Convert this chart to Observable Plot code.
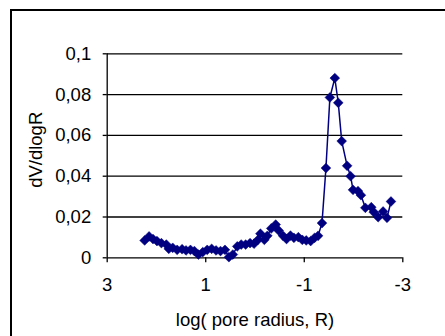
<!DOCTYPE html>
<html>
<head>
<meta charset="utf-8">
<script src="https://cdn.jsdelivr.net/npm/d3@7"></script>
<script src="https://cdn.jsdelivr.net/npm/@observablehq/plot@0.6"></script>
<style>
  html, body { margin: 0; padding: 0; background: #fff; }
  #wrap { position: relative; width: 445px; height: 336px; overflow: hidden; }
  #border { position: absolute; left: 10px; top: 9px; width: 450px; height: 350px; border: 2px solid #000; box-sizing: border-box; pointer-events: none; }
</style>
</head>
<body>
<div id="wrap"><div id="border"></div></div>
<script>
const logR = [2.24, 2.15, 2.07, 1.99, 1.90, 1.80, 1.75, 1.67, 1.58, 1.48, 1.40, 1.31, 1.23, 1.15, 1.06, 0.97, 0.88, 0.79, 0.70, 0.61, 0.53, 0.45, 0.36, 0.28, 0.19, 0.10, 0.02, -0.06, -0.11, -0.19, -0.25, -0.33, -0.42, -0.48, -0.57, -0.64, -0.72, -0.79, -0.88, -0.96, -1.04, -1.13, -1.21, -1.28, -1.36, -1.44, -1.52, -1.62, -1.69, -1.76, -1.87, -1.94, -1.99, -2.09, -2.15, -2.24, -2.36, -2.41, -2.50, -2.60, -2.68, -2.76];
const dVdlogR = [0.0085, 0.0105, 0.0092, 0.0082, 0.0072, 0.0065, 0.0044, 0.0049, 0.0039, 0.0042, 0.0036, 0.0039, 0.0033, 0.0016, 0.0028, 0.0039, 0.0044, 0.0036, 0.0033, 0.0039, 0.0003, 0.0016, 0.0056, 0.0065, 0.0065, 0.0072, 0.0069, 0.0088, 0.0118, 0.0088, 0.0108, 0.0144, 0.0163, 0.0134, 0.0108, 0.0092, 0.0109, 0.0098, 0.0101, 0.0088, 0.0085, 0.0082, 0.0098, 0.0108, 0.0170, 0.0440, 0.0786, 0.0881, 0.0760, 0.0572, 0.0451, 0.0400, 0.0333, 0.0327, 0.0307, 0.0245, 0.0248, 0.0224, 0.0199, 0.0227, 0.0196, 0.0276];

const xTicks = [3, 1, -1, -3];
const xTickLabels = ["3", "1", "-1", "-3"];
const yTicks = [0, 0.02, 0.04, 0.06, 0.08, 0.1];
const yTickLabels = ["0", "0,02", "0,04", "0,06", "0,08", "0,1"];
const xLabel = "log( pore radius, R)";
const yLabel = "dV/dlogR";

const data = logR.map((x, i) => ({x, y: dVdlogR[i]}));
const navy = "#000080";
const fs = 18.5;

const chart = Plot.plot({
  width: 445,
  height: 336,
  marginLeft: 106.7,
  marginRight: 42.7,
  marginTop: 53.3,
  marginBottom: 78.7,
  style: {fontFamily: "'Liberation Sans', Arial, sans-serif", fontSize: fs + "px", color: "#000", background: "transparent"},
  x: {domain: [3, -3], ticks: xTicks},
  y: {domain: [0, 0.1], ticks: yTicks},
  marks: [
    Plot.ruleY(yTicks.filter(d => d > 0), {stroke: "#000", strokeWidth: 1.3}),
    Plot.ruleY([0], {stroke: "#000", strokeWidth: 1.3}),
    Plot.ruleX([3], {stroke: "#000", strokeWidth: 1.3}),
    Plot.axisX({ticks: xTicks, tickFormat: d => xTickLabels[xTicks.indexOf(d)], tickSize: 5, tickPadding: 15, label: null, fontSize: fs, strokeWidth: 1.3}),
    Plot.axisY({ticks: yTicks, tickFormat: d => yTickLabels[yTicks.indexOf(d)], tickSize: 4, tickPadding: 12, label: null, fontSize: fs, strokeWidth: 1.3}),
    Plot.line(data, {x: "x", y: "y", stroke: navy, strokeWidth: 1.5}),
    Plot.dot(data, {x: "x", y: "y", symbol: "diamond2", r: 4.4, fill: navy, stroke: navy, strokeWidth: 0.5}),
    Plot.text([xLabel], {frameAnchor: "bottom", dy: 62, lineAnchor: "middle", textAnchor: "middle", fontSize: fs, text: d => d}),
    Plot.text([yLabel], {frameAnchor: "left", dx: -71, dy: -6, rotate: -90, textAnchor: "middle", lineAnchor: "middle", fontSize: fs, text: d => d})
  ]
});
document.getElementById("wrap").insertBefore(chart, document.getElementById("border"));
</script>
</body>
</html>
